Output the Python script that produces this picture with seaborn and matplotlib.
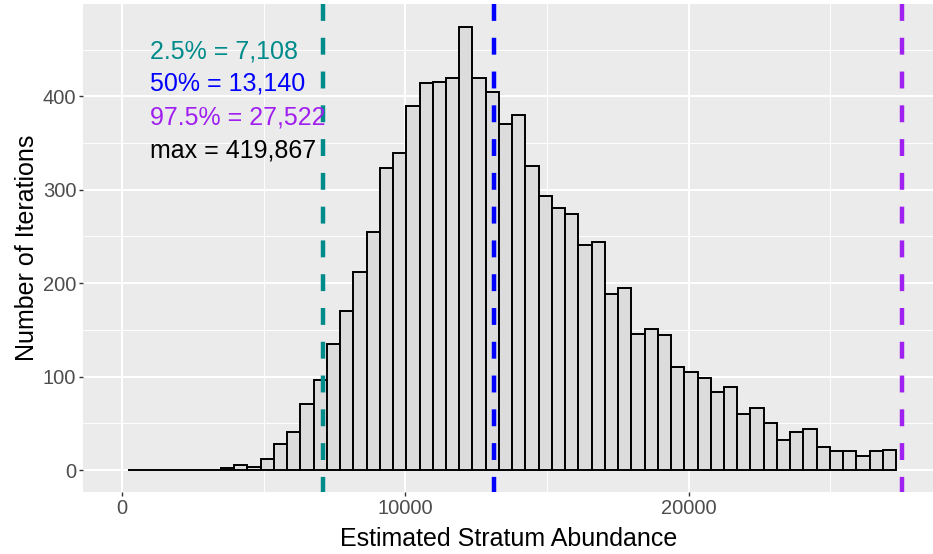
import numpy as np
import pandas as pd
import matplotlib
matplotlib.use('Agg')
import matplotlib.pyplot as plt
import seaborn as sns

# histogram counts per bin, bins start at 226 with width ~467
bin_start = 226
bin_width = 467.2
counts = [0, 0, 0, 0, 0, 0, 0, 2, 5, 3,
          12, 28, 41, 71, 96, 135, 170, 212, 255, 323,
          339, 390, 414, 415, 420, 474, 420, 405, 370, 380,
          325, 293, 280, 274, 241, 244, 188, 195, 146, 151,
          145, 110, 105, 99, 84, 89, 60, 67, 50, 32,
          41, 44, 25, 20, 21, 15, 20, 22]

# quantile lines
q_values = [7108, 13140, 27522]
q_colors = ['#008B8B', '#0000FF', '#A020F0']
labels = ['2.5% = 7,108', '50% = 13,140', '97.5% = 27,522', 'max = 419,867']
label_colors = ['#008B8B', '#0000FF', '#A020F0', '#000000']

x_ticks = [0, 10000, 20000]
y_ticks = [0, 100, 200, 300, 400]

sns.set_theme(style='darkgrid', rc={
    'axes.facecolor': '#EBEBEB',
    'grid.color': 'white',
    'axes.edgecolor': '#EBEBEB',
})
plt.rcParams['font.family'] = ['Liberation Sans', 'DejaVu Sans']

edges = [float(e) for e in bin_start + bin_width * np.arange(len(counts) + 1)]
centers = [(a + b) / 2 for a, b in zip(edges[:-1], edges[1:])]
df = pd.DataFrame({'x': centers, 'n': counts})

fig = plt.figure(figsize=(9.33, 5.54), dpi=100)
ax = fig.add_axes([0.0893, 0.1114, 0.9107, 0.8814])

sns.histplot(data=df, x='x', weights='n', bins=edges, ax=ax,
             color='#DCDCDC', alpha=1, edgecolor='black', linewidth=1.4,
             zorder=3)

for xv, col in zip(q_values, q_colors):
    ax.axvline(xv, ymin=1, ymax=0, color=col, lw=3.2,
               linestyle=(0, (3.8, 3.8)), zorder=4)

# annotation block, top-left
for lab, col, yv in zip(labels, label_colors, [440, 406, 370, 335]):
    ax.text(1000, yv, lab, color=col, fontsize=18, ha='left', va='baseline', zorder=5)

ax.set_xlim(-1362, 28627)
ax.set_ylim(-23.7, 498.7)
ax.set_xticks(x_ticks)
ax.set_xticklabels([str(v) for v in x_ticks])
ax.set_yticks(y_ticks)
ax.set_xticks([5000, 15000, 25000], minor=True)
ax.set_yticks([50, 150, 250, 350, 450], minor=True)
ax.grid(which='major', color='white', lw=1.5)
ax.grid(which='minor', color='white', lw=0.7)
ax.set_axisbelow(True)
for s in ax.spines.values():
    s.set_visible(False)

ax.tick_params(axis='both', which='major', length=3, width=1.0, color='#333333',
               labelsize=14.5, labelcolor='#4D4D4D', pad=2, bottom=True, left=True)
ax.tick_params(axis='both', which='minor', length=0)

ax.set_xlabel('Estimated Stratum Abundance', fontsize=18, color='black', labelpad=6)
ax.set_ylabel('Number of Iterations', fontsize=18, color='black', labelpad=3)

fig.savefig('out.png', dpi=100)
